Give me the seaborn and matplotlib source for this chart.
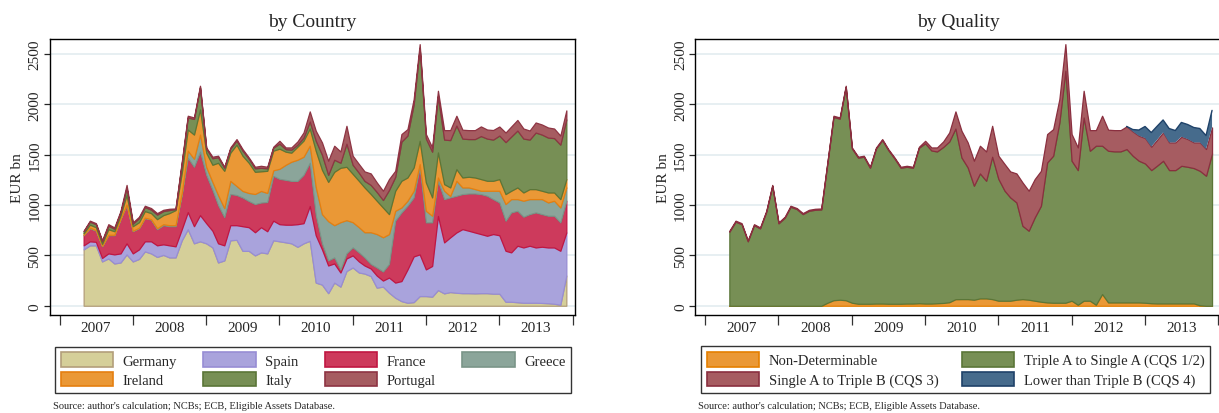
import numpy as np
import pandas as pd
import matplotlib
matplotlib.use('Agg')
import matplotlib.pyplot as plt
from matplotlib.patches import Patch
import seaborn as sns

sns.set_theme(style='white')
plt.rcParams['font.family'] = ['Liberation Serif', 'DejaVu Serif']

# monthly observations, May 2007 - Dec 2013
months = pd.date_range('2007-05-01', '2013-12-01', freq='MS')

# ── by Country (EUR bn) ─────────────────────────────────────────
germany = [560, 600, 600, 440, 470, 420, 430, 510, 440, 465, 540, 520, 485, 505, 480, 480,
           650, 760, 620, 640, 620, 580, 430, 450, 650, 655, 545, 545, 500, 530, 520, 650,
           640, 630, 620, 585, 620, 645, 230, 210, 125, 230, 190, 345, 380, 330, 320, 295,
           180, 190, 130, 80, 46, 30, 36, 96, 96, 90, 156, 123, 136, 129, 125, 125,
           123, 125, 125, 120, 120, 40, 40, 35, 30, 30, 30, 28, 25, 20, 10, 300]
spain = [40, 40, 35, 35, 50, 90, 90, 110, 80, 95, 100, 120, 115, 105, 120, 110,
         110, 170, 170, 260, 200, 165, 190, 150, 150, 145, 245, 235, 230, 250, 220, 195,
         170, 175, 185, 225, 200, 345, 470, 350, 275, 190, 140, 125, 120, 110, 80, 75,
         120, 60, 150, 150, 199, 330, 454, 414, 265, 305, 736, 506, 543, 599, 636, 620,
         605, 587, 570, 592, 580, 506, 490, 561, 549, 566, 549, 558, 554, 559, 536, 428]
france = [100, 130, 110, 115, 180, 190, 340, 380, 220, 210, 230, 215, 160, 190, 190, 200,
          340, 540, 590, 630, 480, 405, 380, 280, 310, 300, 285, 260, 280, 245, 290, 445,
          450, 445, 435, 430, 480, 430, 200, 60, 50, 60, 30, 50, 80, 90, 80, 45,
          80, 90, 135, 615, 682, 633, 586, 864, 467, 433, 349, 430, 397, 364, 348, 370,
          387, 397, 397, 347, 326, 298, 397, 347, 305, 314, 348, 324, 315, 315, 282, 315]
greece = [5, 5, 5, 5, 5, 5, 5, 5, 5, 5, 5, 5, 10, 10, 10, 10,
          20, 70, 80, 170, 80, 80, 100, 90, 130, 90, 65, 80, 100, 115, 90, 55,
          100, 150, 190, 210, 180, 170, 280, 290, 390, 320, 470, 330, 250, 250, 250, 315,
          332, 340, 297, 98, 49, 50, 66, 33, 115, 66, 33, 83, 14, 149, 66, 60,
          44, 33, 50, 83, 116, 166, 132, 116, 159, 149, 132, 149, 132, 149, 148, 132]
ireland = [15, 30, 30, 20, 55, 35, 35, 95, 45, 55, 65, 60, 90, 90, 120, 150,
           200, 210, 240, 250, 140, 170, 320, 370, 280, 410, 350, 300, 220, 195, 220, 195,
           200, 130, 90, 130, 160, 170, 360, 440, 390, 530, 540, 530, 480, 460, 445, 380,
           331, 295, 198, 199, 265, 231, 232, 231, 282, 182, 249, 66, 85, 116, 99, 106,
           115, 116, 99, 99, 116, 99, 83, 116, 82, 99, 99, 83, 99, 82, 83, 83]
italy = [20, 30, 30, 25, 35, 25, 30, 70, 25, 40, 40, 35, 45, 40, 30, 10,
         90, 120, 155, 220, 40, 65, 55, 30, 40, 40, 50, 40, 35, 35, 25, 30,
         50, 25, 30, 20, 30, 70, 100, 150, 70, 120, 50, 230, 90, 80, 65, 90,
         87, 75, 240, 138, 389, 416, 626, 922, 435, 454, 557, 442, 470, 433, 386, 374,
         381, 427, 419, 409, 432, 516, 538, 565, 535, 492, 562, 558, 545, 540, 541, 592]
portugal = [5, 10, 10, 10, 15, 13, 13, 30, 13, 14, 13, 15, 15, 13, 13, 6,
            20, 17, 15, 15, 12, 15, 15, 10, 12, 15, 16, 13, 15, 20, 15, 9,
            28, 17, 22, 32, 51, 100, 98, 122, 140, 139, 112, 177, 90, 87, 94, 114,
            95, 92, 108, 60, 75, 64, 52, 38, 45, 42, 55, 94, 99, 97, 88, 89,
            89, 96, 90, 95, 90, 95, 100, 105, 100, 90, 100, 100, 100, 95, 90, 90]

# ── by Quality (EUR bn) ─────────────────────────────────────────
non_det = [0] * 16 + [30, 55, 60, 55, 30, 20, 20, 20, 22, 22, 20, 20, 20, 22, 22, 25,
                      22, 22, 25, 28, 35, 65, 66, 66, 60, 73, 73, 66, 50, 50, 50, 60,
                      66, 60, 50, 40, 33, 30, 30, 30, 50, 10, 50, 50, 10, 116, 33, 33,
                      33, 33, 33, 33, 30, 25, 23, 23, 23, 23, 23, 23, 23, 5, 0, 0]
triple_a = [735, 835, 810, 640, 800, 768, 933, 1190, 818, 874, 983, 960, 910, 943, 953, 956,
            1390, 1820, 1798, 2118, 1532, 1450, 1460, 1350, 1540, 1623, 1526, 1443, 1350, 1358, 1348, 1544,
            1591, 1520, 1507, 1549, 1596, 1695, 1407, 1308, 1132, 1241, 1168, 1414, 1210, 1092, 1026, 966,
            728, 685, 827, 953, 1390, 1460, 1790, 2304, 1390, 1337, 1820, 1489, 1579, 1473, 1506, 1500,
            1500, 1523, 1456, 1407, 1383, 1322, 1367, 1417, 1324, 1324, 1367, 1357, 1344, 1335, 1291, 1513]
single_a = [10] * 16 + [10, 12, 12, 12, 10, 10, 10, 10, 10, 10, 10, 10, 10, 10, 10, 10,
                        25, 30, 40, 55, 90, 170, 265, 248, 248, 275, 291, 307, 230, 265, 258, 288,
                        431, 397, 381, 347, 282, 264, 232, 264, 265, 225, 265, 205, 155, 298, 209, 211,
                        211, 225, 241, 248, 252, 232, 255, 281, 275, 275, 288, 275, 255, 282, 265, 258]
lower_bbb = [0] * 64 + [0, 0, 20, 57, 115, 141, 135, 124, 138, 118, 142, 145, 148, 138, 134, 169]

country_names = ['Germany', 'Spain', 'France', 'Greece', 'Ireland', 'Italy', 'Portugal']
country_fill = ['#d5cf99', '#a9a3dc', '#cd3a5c', '#8ba59a', '#ea9836', '#778f55', '#a65c61']
country_edge = ['#b39e7a', '#978dd4', '#c01642', '#7a9588', '#e57f10', '#5b7638', '#8e3443']

quality_names = ['Non-Determinable', 'Triple A to Single A (CQS 1/2)',
                 'Single A to Triple B (CQS 3)', 'Lower than Triple B (CQS 4)']
quality_fill = ['#ea9836', '#778f55', '#a65c61', '#466b8c']
quality_edge = ['#e57f00', '#5b7638', '#8a2f3f', '#1f4269']

fig = plt.figure(figsize=(12.19, 4.14), dpi=100)
ax1 = fig.add_axes([0.0408, 0.2367, 0.4312, 0.6674])
ax2 = fig.add_axes([0.5705, 0.2367, 0.4312, 0.6674])

x = months.to_pydatetime()


def style_axis(ax, title):
    ax.set_xlim(pd.Timestamp('2006-11-13'), pd.Timestamp('2014-01-15'))
    ax.set_ylim(-92, 2652)
    ax.set_yticks([0, 500, 1000, 1500, 2000, 2500])
    ax.yaxis.grid(True, color='#e3ecf0', linewidth=1.2)
    ax.xaxis.grid(False)
    ax.set_axisbelow(True)
    ax.set_xticks([pd.Timestamp(f'{y}-01-01') for y in range(2007, 2015)])
    ax.set_xticklabels([])
    ax.set_xticks([pd.Timestamp(f'{y}-07-02') for y in range(2007, 2014)], minor=True)
    ax.set_xticklabels([str(y) for y in range(2007, 2014)], minor=True, fontsize=11)
    ax.tick_params(axis='x', which='major', direction='out', length=7, width=0.9,
                   color='#333333', bottom=True, pad=2)
    ax.tick_params(axis='x', which='minor', length=0, pad=4)
    ax.tick_params(axis='y', direction='out', length=4, width=0.9, left=True,
                   labelsize=11, labelrotation=90, pad=2)
    for lab in ax.get_yticklabels():
        lab.set_verticalalignment('center')
    for sp in ax.spines.values():
        sp.set_visible(True)
        sp.set_color('black')
        sp.set_linewidth(1.0)
    ax.set_ylabel('EUR bn', fontsize=11, labelpad=3)
    ax.set_title(title, fontsize=14, pad=9)


# left: by Country
polys = ax1.stackplot(x, germany, spain, france, greece, ireland, italy, portugal,
                      colors=country_fill, linewidth=0.9)
for p, ec in zip(polys, country_edge):
    p.set_edgecolor(ec)
style_axis(ax1, 'by Country')

# right: by Quality
polys = ax2.stackplot(x, non_det, triple_a, single_a, lower_bbb,
                      colors=quality_fill, linewidth=0.9)
for p, ec in zip(polys[:3], quality_edge[:3]):
    p.set_edgecolor(ec)
polys[3].set_edgecolor('none')
# outline of the CQS 4 band only where it exists
total_q = np.sum([non_det, triple_a, single_a, lower_bbb], axis=0)
has_low = np.convolve(np.array(lower_bbb) > 0, [1, 1, 1], mode='same') > 0
ax2.plot(x, np.ma.masked_where(~has_low, total_q), color=quality_edge[3], lw=1.0)
style_axis(ax2, 'by Quality')

# legends (matplotlib fills column-wise, so order them to read row-wise)
leg_kw = dict(loc='lower left', fontsize=10.5, frameon=True, fancybox=False,
              edgecolor='black', borderaxespad=0, handlelength=3.6, handleheight=1.15,
              labelspacing=0.3, borderpad=0.4, handletextpad=0.65)

h = {n: Patch(facecolor=f, edgecolor=e, linewidth=1.2)
     for n, f, e in zip(country_names, country_fill, country_edge)}
order = ['Germany', 'Ireland', 'Spain', 'Italy', 'France', 'Portugal', 'Greece']
leg1 = fig.legend([h[n] for n in order], order, ncol=4, columnspacing=1.8,
                  bbox_to_anchor=(55 / 1219, 20 / 414), **leg_kw)
leg1.get_frame().set_linewidth(1.0)

hq = {n: Patch(facecolor=f, edgecolor=e, linewidth=1.2)
      for n, f, e in zip(quality_names, quality_fill, quality_edge)}
order_q = [quality_names[0], quality_names[2], quality_names[1], quality_names[3]]
leg2 = fig.legend([hq[n] for n in order_q], order_q, ncol=2, columnspacing=1.6,
                  bbox_to_anchor=(701 / 1219, 20 / 414), **leg_kw)
leg2.get_frame().set_linewidth(1.0)

src = "Source: author's calculation; NCBs; ECB, Eligible Assets Database."
fig.text(53 / 1219, 7 / 414, src, fontsize=7.5, va='center', ha='left')
fig.text(698 / 1219, 7 / 414, src, fontsize=7.5, va='center', ha='left')

fig.savefig('out.png', dpi=100)
